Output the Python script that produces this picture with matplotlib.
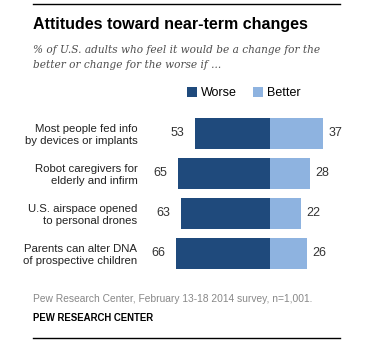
import matplotlib
matplotlib.use('Agg')
import matplotlib.pyplot as plt

# survey data
categories = ['Most people fed info\nby devices or implants',
              'Robot caregivers for\nelderly and infirm',
              'U.S. airspace opened\nto personal drones',
              'Parents can alter DNA\nof prospective children']
worse = [53, 65, 63, 66]
better = [37, 28, 22, 26]

dark_blue = '#1f4a7c'
light_blue = '#8eb3e0'
sans = ['Liberation Sans', 'DejaVu Sans']

W, H = 378, 344
fig = plt.figure(figsize=(W / 100, H / 100), dpi=100)

# axes placed in pixel terms: zero line at x=270
ax = fig.add_axes([150 / W, (H - 273.4) / H, 200 / W, 160 / H])
ppu = 1.42
ax.set_xlim(-120 / ppu, 80 / ppu)
ax.set_ylim(3.5, -0.5)

y = list(range(len(categories)))
ax.barh(y, [-w for w in worse], height=0.78, color=dark_blue, label='Worse')
ax.barh(y, better, height=0.78, color=light_blue, label='Better')

for i in y:
    ax.annotate(str(worse[i]), (-worse[i], i), xytext=(-7.5, 0), textcoords='offset points',
                ha='right', va='center', fontsize=9, family=sans, color='#333333')
    ax.annotate(str(better[i]), (better[i], i), xytext=(4, 0), textcoords='offset points',
                ha='left', va='center', fontsize=9, family=sans, color='#333333')

ax.set_yticks(y)
ax.set_yticklabels(categories, family=sans, fontsize=8.2, color='#222222', linespacing=1.2)
ax.tick_params(axis='y', length=0, pad=9)
ax.set_xticks([])
for s in ax.spines.values():
    s.set_visible(False)

leg = ax.legend(loc='center left', bbox_to_anchor=(37 / 200, (273.4 - 93) / 160), ncol=2,
                frameon=False, prop={'family': sans, 'size': 9}, handlelength=0.8,
                handleheight=0.8, handletextpad=0.3, columnspacing=1.3, borderpad=0,
                borderaxespad=0)

# header and footer
fig.add_artist(plt.Line2D([33 / W, 340 / W], [1 - 4 / H, 1 - 4 / H], color='black', lw=1))
fig.text(33 / W, 1 - 29 / H, 'Attitudes toward near-term changes', fontsize=11.5,
         fontweight='bold', family=sans, va='baseline')
fig.text(33 / W, 1 - 53 / H, '% of U.S. adults who feel it would be a change for the',
         fontsize=7.6, style='italic', family=['DejaVu Serif'], color='#4d4d4d', va='baseline')
fig.text(33 / W, 1 - 68 / H, 'better or change for the worse if ...',
         fontsize=7.6, style='italic', family=['DejaVu Serif'], color='#4d4d4d', va='baseline')
fig.text(33 / W, 1 - 302 / H, 'Pew Research Center, February 13-18 2014 survey, n=1,001.',
         fontsize=7.4, family=sans, color='#888888', va='baseline')
fig.text(33 / W, 1 - 321 / H, 'PEW RESEARCH CENTER', fontsize=6.9, fontweight='bold',
         family=sans, color='black', va='baseline')
fig.add_artist(plt.Line2D([33 / W, 340 / W], [1 - 338 / H, 1 - 338 / H], color='black', lw=1))

fig.savefig('out.png', dpi=100)
